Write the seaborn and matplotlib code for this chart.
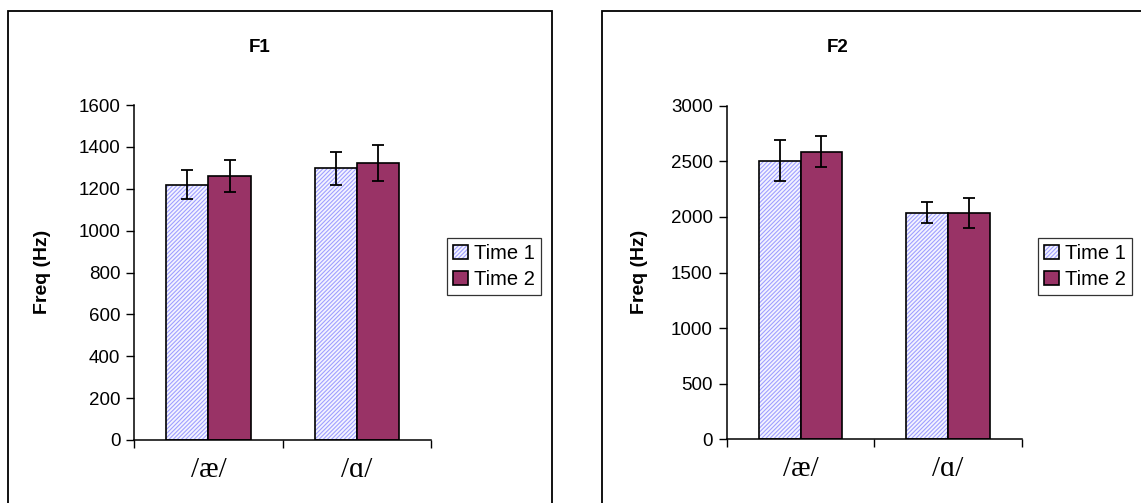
import matplotlib
matplotlib.use("Agg")
import matplotlib.pyplot as plt
from matplotlib.patches import Rectangle
from matplotlib.colors import to_rgba
import seaborn as sns
import pandas as pd

# ---- data ----
vowels = ["/æ/", "/ɑ/"]
times = ["Time 1", "Time 2"]
f1_time1 = [1220, 1297]
f1_time2 = [1262, 1324]
f1_err_time1 = [70, 80]
f1_err_time2 = [76, 85]
f2_time1 = [2505, 2037]
f2_time2 = [2588, 2037]
f2_err_time1 = [185, 95]
f2_err_time2 = [140, 137]
f1_yticks = [0, 200, 400, 600, 800, 1000, 1200, 1400, 1600]
f2_yticks = [0, 500, 1000, 1500, 2000, 2500, 3000]

sns.set_theme(style="white")
plt.rcParams["font.family"] = ["Liberation Sans", "DejaVu Sans"]
plt.rcParams["hatch.linewidth"] = 0.8
for key in ["text.color", "axes.labelcolor", "xtick.color", "ytick.color"]:
    plt.rcParams[key] = "black"

W, H = 1141, 503
fig = plt.figure(figsize=(W / 100, H / 100), dpi=100)
fig.patch.set_facecolor("white")

def fx(px):
    return px / W

def fy(py):
    return 1 - py / H

# outer chart frames
fig.patches.append(Rectangle((fx(8), fy(560)), fx(552 - 8), (560 - 11) / H,
                             transform=fig.transFigure, fill=False,
                             edgecolor="black", linewidth=1.3, zorder=0))
fig.patches.append(Rectangle((fx(602), fy(560)), fx(1200 - 602), (560 - 11) / H,
                             transform=fig.transFigure, fill=False,
                             edgecolor="black", linewidth=1.3, zorder=0))

hatch_col = to_rgba("#A0A0FF")
plum = "#993366"

def make_panel(rect, t1, t2, e1, e2, yticks, title, title_x, ylabel_x, legend_x):
    ax = fig.add_axes(rect)
    df = pd.DataFrame({
        "vowel": vowels * 2,
        "time": [times[0]] * 2 + [times[1]] * 2,
        "freq": list(t1) + list(t2),
    })
    sns.barplot(data=df, x="vowel", y="freq", hue="time", order=vowels,
                hue_order=times, palette=["white", plum], width=0.567,
                errorbar=None, edgecolor="black", linewidth=1.2, gap=0,
                saturation=1, ax=ax, legend=False)
    for p in ax.containers[0]:
        p.set_facecolor("#F4F4FF")
        p.set_hatch("////////")
        p._hatch_color = hatch_col
    for cont, errs in zip(ax.containers, [e1, e2]):
        xs = [p.get_x() + p.get_width() / 2 for p in cont]
        ys = [p.get_height() for p in cont]
        ax.errorbar(xs, ys, yerr=errs, fmt="none", ecolor="black",
                    elinewidth=1.3, capsize=4.5, capthick=1.3, zorder=5)
    ax.set_ylim(yticks[0], yticks[-1])
    ax.set_yticks(yticks)
    ax.set_xlim(-0.5, 1.5)
    ax.set_xticks([-0.5, 0.5, 1.5], minor=True)
    ax.tick_params(axis="x", which="major", length=0, pad=12)
    ax.tick_params(axis="x", which="minor", length=6, width=1, color="black",
                   direction="out", bottom=True)
    ax.tick_params(axis="y", length=6, width=1, color="black",
                   direction="out", left=True, labelsize=13.5, pad=4)
    for lab in ax.get_xticklabels():
        lab.set_fontfamily(["Liberation Serif", "DejaVu Serif"])
        lab.set_fontsize(21)
    ax.set_xlabel("")
    ax.set_ylabel("")
    for side in ["top", "right"]:
        ax.spines[side].set_visible(False)
    for side in ["left", "bottom"]:
        ax.spines[side].set_color("black")
        ax.spines[side].set_linewidth(1.1)
    ax.set_facecolor("white")
    fig.text(fx(title_x), fy(48), title, ha="center", va="center",
             fontsize=13.5, fontweight="bold", color="black")
    fig.text(fx(ylabel_x), fy(272), "Freq (Hz)", ha="center", va="center",
             rotation=90, fontsize=14, fontweight="bold", color="black")
    leg = ax.legend(handles=list(ax.containers), labels=times,
                    loc="upper left", bbox_to_anchor=(fx(legend_x), fy(238)),
                    bbox_transform=fig.transFigure, frameon=True,
                    fancybox=False, edgecolor="black", fontsize=14.5,
                    handlelength=0.75, handleheight=0.75, handletextpad=0.3,
                    borderpad=0.3, labelspacing=0.35, borderaxespad=0)
    leg.get_frame().set_linewidth(0.9)
    return ax

make_panel([fx(134.3), 63 / H, fx(431) - fx(134.3), 335 / H],
           f1_time1, f1_time2, f1_err_time1, f1_err_time2, f1_yticks,
           "F1", 260, 43, 447)
make_panel([fx(726.7), 63.7 / H, fx(1022) - fx(726.7), 333.6 / H],
           f2_time1, f2_time2, f2_err_time1, f2_err_time2, f2_yticks,
           "F2", 838, 640, 1038)

fig.savefig("out.png", dpi=100)
